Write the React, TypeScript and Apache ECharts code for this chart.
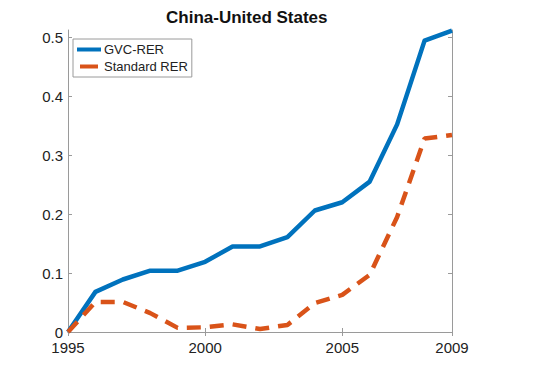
import React, { useEffect, useRef } from "react";
import * as echarts from "echarts";

const years = [1995, 1996, 1997, 1998, 1999, 2000, 2001, 2002, 2003, 2004, 2005, 2006, 2007, 2008, 2009];
const gvcRer = [0, 0.068, 0.089, 0.104, 0.104, 0.119, 0.145, 0.145, 0.161, 0.206, 0.22, 0.255, 0.352, 0.494, 0.511];
const standardRer = [0, 0.051, 0.051, 0.032, 0.007, 0.008, 0.013, 0.005, 0.012, 0.049, 0.063, 0.097, 0.195, 0.328, 0.334];
const xTicks = [1995, 2000, 2005, 2009];
const seriesNames = ["GVC-RER", "Standard RER"];
const titleText = "China-United States";

const FONT = "'Liberation Sans', Arial, Helvetica, sans-serif";
const AXIS_COLOR = "#9a9a9a";
const TEXT_COLOR = "#222222";

export default function App() {
  const ref = useRef<HTMLDivElement>(null);
  useEffect(() => {
    if (!ref.current) return;
    const chart = echarts.init(ref.current, undefined, { renderer: "svg" });
    const pair = (vals: number[]) => years.map((y, i) => [y, vals[i]]);
    const axisLineStyle = { show: true, lineStyle: { color: AXIS_COLOR, width: 1 } };
    chart.setOption({
      animation: false,
      backgroundColor: "#ffffff",
      textStyle: { fontFamily: FONT },
      title: {
        text: titleText,
        left: 166,
        top: 9,
        padding: 0,
        textStyle: { fontFamily: FONT, fontSize: 17, fontWeight: "bold", color: "#111111" },
      },
      grid: { left: 68, right: 98, top: 30, bottom: 33, containLabel: false },
      legend: {
        orient: "vertical",
        left: 73,
        top: 39,
        padding: [4, 4, 4, 4],
        itemWidth: 24,
        itemHeight: 4,
        itemGap: 4,
        symbolKeepAspect: true,
        borderColor: AXIS_COLOR,
        borderWidth: 1,
        backgroundColor: "#ffffff",
        data: [
          { name: seriesNames[0], icon: "path://M0,0h24v4h-24z" },
          { name: seriesNames[1], icon: "path://M0,0h18v4h-18z" },
        ],
        textStyle: { fontFamily: FONT, fontSize: 13, color: TEXT_COLOR, padding: [0, 0, 0, -2] },
      },
      xAxis: [
        {
          type: "value",
          min: 1995,
          max: 2009,
          position: "bottom",
          axisLine: axisLineStyle,
          splitLine: { show: false },
          axisTick: { show: true, inside: true, length: 4, customValues: xTicks, lineStyle: { color: AXIS_COLOR } },
          axisLabel: {
            show: true,
            customValues: xTicks,
            margin: 8,
            fontSize: 15,
            color: TEXT_COLOR,
            fontFamily: FONT,
            formatter: (v: number) => String(v),
          },
        },
        {
          type: "value",
          min: 1995,
          max: 2009,
          position: "top",
          axisLine: axisLineStyle,
          splitLine: { show: false },
          axisTick: { show: true, inside: true, length: 4, customValues: xTicks, lineStyle: { color: AXIS_COLOR } },
          axisLabel: { show: false },
        },
      ],
      yAxis: [
        {
          type: "value",
          min: 0,
          max: 0.512,
          interval: 0.1,
          position: "left",
          axisLine: axisLineStyle,
          splitLine: { show: false },
          axisTick: { show: true, inside: true, length: 4, lineStyle: { color: AXIS_COLOR } },
          axisLabel: {
            show: true,
            showMaxLabel: false,
            margin: 5,
            fontSize: 15,
            color: TEXT_COLOR,
            fontFamily: FONT,
            formatter: (v: number) => (v === 0 ? "0" : String(Math.round(v * 10) / 10)),
          },
        },
        {
          type: "value",
          min: 0,
          max: 0.512,
          interval: 0.1,
          position: "right",
          axisLine: axisLineStyle,
          splitLine: { show: false },
          axisTick: { show: true, inside: true, length: 4, lineStyle: { color: AXIS_COLOR } },
          axisLabel: { show: false },
        },
      ],
      series: [
        {
          name: seriesNames[0],
          type: "line",
          xAxisIndex: 0,
          yAxisIndex: 0,
          data: pair(gvcRer),
          symbol: "none",
          lineStyle: { color: "#0072BD", width: 4.5, join: "round" },
          itemStyle: { color: "#0072BD" },
        },
        {
          name: seriesNames[1],
          type: "line",
          xAxisIndex: 0,
          yAxisIndex: 0,
          data: pair(standardRer),
          symbol: "none",
          lineStyle: { color: "#D95319", width: 4.5, type: [14, 9] },
          itemStyle: { color: "#D95319" },
        },
      ],
    });
    return () => chart.dispose();
  }, []);
  return (
    <div
      ref={ref}
      style={{ position: "fixed", left: 0, top: 0, width: 550, height: 365, background: "#fff" }}
    />
  );
}
